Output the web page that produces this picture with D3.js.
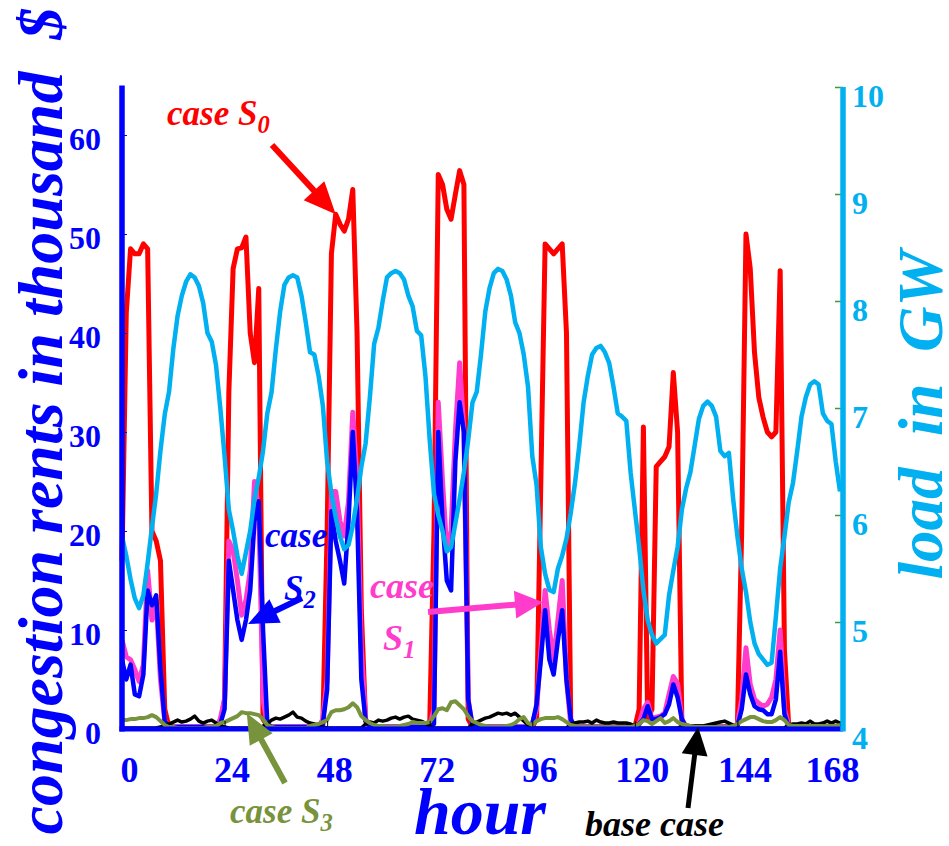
<!DOCTYPE html>
<html>
<head>
<meta charset="utf-8">
<script src="https://cdn.jsdelivr.net/npm/d3@7"></script>
<style>
  body { margin: 0; background: #fff; }
  svg text { font-family: "Liberation Serif", "Times New Roman", serif; font-weight: bold; }
</style>
</head>
<body>
<svg id="chart" width="949" height="846"></svg>
<script>
// tick values
const hourTicks = [0, 24, 48, 72, 96, 120, 144, 168];
const rentTicks = [0, 10, 20, 30, 40, 50, 60];
const loadTicks = [4, 5, 6, 7, 8, 9, 10];

// hourly values, hour 0..168
const loadGW = [
  5.80, 5.62, 5.40, 5.22, 5.13, 5.25, 5.55, 5.88, 6.20, 6.60, 6.94, 7.15,
  7.55, 7.86, 8.05, 8.18, 8.25, 8.22, 8.14, 7.98, 7.70, 7.62, 7.40, 7.00,
  6.55, 6.05, 5.85, 5.62, 5.45, 5.65, 5.85, 6.15, 6.35, 6.60, 6.95, 7.15,
  7.55, 7.90, 8.15, 8.22, 8.24, 8.22, 8.05, 7.80, 7.52, 7.50, 7.30, 7.02,
  6.50, 6.20, 5.98, 5.80, 5.68, 5.72, 5.90, 6.15, 6.45, 6.67, 7.10, 7.60,
  7.75, 8.00, 8.22, 8.26, 8.28, 8.26, 8.20, 8.05, 7.95, 7.72, 7.68, 7.30,
  6.70, 6.20, 6.00, 5.85, 5.66, 5.70, 5.92, 6.15, 6.40, 6.70, 7.05, 7.15,
  7.50, 7.90, 8.12, 8.26, 8.30, 8.28, 8.20, 8.05, 7.80, 7.70, 7.50, 7.20,
  6.55, 6.28, 5.70, 5.45, 5.30, 5.28, 5.50, 5.62, 5.78, 6.02, 6.30, 6.65,
  7.05, 7.30, 7.50, 7.56, 7.58, 7.52, 7.42, 7.20, 6.95, 6.92, 6.88, 6.40,
  6.05, 5.70, 5.30, 5.02, 4.88, 4.80, 4.84, 4.88, 5.25, 5.48, 5.70, 6.05,
  6.25, 6.40, 6.65, 6.90, 7.02, 7.06, 7.02, 6.92, 6.60, 6.55, 6.58, 6.15,
  5.80, 5.50, 5.28, 5.00, 4.80, 4.70, 4.65, 4.60, 4.62, 5.05, 5.50, 5.80,
  6.12, 6.30, 6.60, 6.92, 7.10, 7.22, 7.25, 7.22, 6.95, 6.88, 6.85, 6.50, 6.22
];

const caseS0 = [
  17, 42, 48.5, 48, 48, 49, 48.5, 20, 19, 17, 2, 0.2,
  0.2, 0.2, 0.2, 0.2, 0.2, 0.2, 0.2, 0.2, 0.2, 0.2, 0.2, 0.5,
  3, 34, 46.5, 48.5, 48.6, 49.7, 40, 37, 44.5, 1, 0.3, 0.2,
  0.2, 0.2, 0.2, 0.2, 0.2, 0.2, 0.2, 0.2, 0.2, 0.2, 0.2, 0.5,
  20, 48, 52, 51, 50.3, 51.5, 54.5, 40, 12, 0.8, 0.2, 0.2,
  0.2, 0.2, 0.2, 0.2, 0.2, 0.2, 0.2, 0.2, 0.2, 0.2, 0.2, 0.2,
  0.5, 20, 56, 55, 52.5, 51.5, 54, 56.4, 55, 1, 0.2, 0.2,
  0.2, 0.2, 0.2, 0.2, 0.2, 0.2, 0.2, 0.2, 0.2, 0.2, 0.2, 0.2,
  0.2, 1, 25, 49, 48.5, 48, 48.5, 49, 40, 0.5, 0.2, 0.2,
  0.2, 0.2, 0.2, 0.2, 0.2, 0.2, 0.2, 0.2, 0.2, 0.2, 0.2, 0.2,
  0.2, 2, 30.5, 1, 2, 26.5, 27, 27.5, 28.5, 36, 30, 0.5,
  0.2, 0.2, 0.2, 0.2, 0.2, 0.2, 0.2, 0.2, 0.2, 0.2, 0.2, 0.2,
  0.5, 20, 50, 46.5, 38, 33.5, 31.5, 30, 29.5, 30, 46.3, 8,
  0.3, 0.2, 0.2, 0.2, 0.2, 0.2, 0.2, 0.2, 0.2, 0.2, 0.2, 0.2, 0.2
];

const caseS1 = [
  9, 7.3, 7, 6, 4.8, 6.5, 16, 11, 13, 5, 0.8, 0.2,
  0.2, 0.2, 0.2, 0.2, 0.2, 0.2, 0.2, 0.2, 0.2, 0.2, 0.2, 1,
  3, 19, 18, 15, 11.5, 13, 16, 25, 22, 3, 0.5, 0.2,
  0.2, 0.2, 0.2, 0.2, 0.2, 0.2, 0.2, 0.2, 0.2, 0.2, 0.2, 1,
  5, 24, 24, 21, 19.5, 23, 32, 25, 8, 1, 0.3, 0.2,
  0.2, 0.2, 0.2, 0.2, 0.2, 0.2, 0.2, 0.2, 0.2, 0.2, 0.2, 0.2,
  0.3, 2, 33, 25, 18, 20, 30, 37, 30, 3, 0.3, 0.2,
  0.2, 0.2, 0.2, 0.2, 0.2, 0.2, 0.2, 0.2, 0.2, 0.2, 0.2, 0.2,
  0.5, 2, 8, 14, 10, 7, 11, 15, 5, 0.5, 0.2, 0.2,
  0.2, 0.2, 0.2, 0.2, 0.2, 0.2, 0.2, 0.2, 0.2, 0.2, 0.2, 0.2,
  0.2, 0.5, 2, 2.7, 1, 1.2, 1.3, 1.6, 3.5, 5.3, 4.6, 1,
  0.2, 0.2, 0.2, 0.2, 0.2, 0.2, 0.2, 0.2, 0.2, 0.2, 0.2, 0.2,
  0.5, 3, 8.2, 4.5, 3, 2.6, 2.3, 2.5, 3.2, 5, 10, 2,
  0.3, 0.2, 0.2, 0.2, 0.2, 0.2, 0.2, 0.2, 0.2, 0.2, 0.2, 0.2, 0.2
];

const caseS2 = [
  7, 5, 6.5, 3.5, 3.3, 5.5, 14, 12.5, 13.5, 6, 0.8, 0.2,
  0.2, 0.2, 0.2, 0.2, 0.2, 0.2, 0.2, 0.2, 0.2, 0.2, 0.2, 0.5,
  2, 17, 14, 11, 9, 11, 14, 21, 23, 10, 0.5, 0.2,
  0.2, 0.2, 0.2, 0.2, 0.2, 0.2, 0.2, 0.2, 0.2, 0.2, 0.2, 0.5,
  4, 22, 19, 17, 14.7, 21, 30, 22, 5, 0.8, 0.3, 0.2,
  0.2, 0.2, 0.2, 0.2, 0.2, 0.2, 0.2, 0.2, 0.2, 0.2, 0.2, 0.2,
  0.3, 0.5, 30, 21, 15, 14, 27, 33, 30, 3, 0.3, 0.2,
  0.2, 0.2, 0.2, 0.2, 0.2, 0.2, 0.2, 0.2, 0.2, 0.2, 0.2, 0.2,
  0.5, 2.5, 7, 12, 7, 5.5, 9, 12, 5, 1, 0.2, 0.2,
  0.2, 0.2, 0.2, 0.2, 0.2, 0.2, 0.2, 0.2, 0.2, 0.2, 0.2, 0.2,
  0.2, 0.5, 1, 2.3, 1, 1, 1.2, 1.5, 2.5, 4.5, 3.2, 1,
  0.2, 0.2, 0.2, 0.2, 0.2, 0.2, 0.2, 0.2, 0.2, 0.2, 0.2, 0.2,
  0.3, 2, 5.5, 3.5, 2.3, 2, 1.9, 1.5, 1.5, 3, 7.8, 1.5,
  0.2, 0.2, 0.2, 0.2, 0.2, 0.2, 0.2, 0.2, 0.2, 0.2, 0.2, 0.2, 0.2
];

const caseS3 = [
  0.9, 0.9, 1.0, 1.0, 1.1, 1.1, 1.2, 1.4, 1.2, 0.8, 0.4, 0.2,
  0.2, 0.1, 0.1, 0.1, 0.1, 0.1, 0.1, 0.1, 0.2, 0.2, 0.3, 0.6,
  0.7, 0.9, 1.1, 1.3, 1.7, 1.6, 1.6, 1.5, 1.4, 1.0, 0.4, 0.2,
  0.1, 0.1, 0.1, 0.1, 0.1, 0.1, 0.1, 0.1, 0.3, 0.4, 0.5, 0.7,
  0.9, 1.7, 1.9, 1.9, 2.0, 2.2, 2.6, 2.2, 1.3, 0.9, 0.6, 0.4,
  0.3, 0.3, 0.2, 0.2, 0.2, 0.3, 0.4, 0.5, 0.7, 0.6, 0.6, 0.6,
  0.7, 1.3, 2.0, 2.1, 1.9, 2.7, 2.8, 2.4, 2.0, 1.3, 0.8, 0.6,
  0.4, 0.3, 0.2, 0.2, 0.2, 0.2, 0.3, 0.4, 0.6, 1.0, 1.2, 0.6,
  0.4, 0.8, 1.0, 1.1, 1.1, 1.1, 1.2, 1.0, 0.7, 0.4, 0.3, 0.2,
  0.2, 0.2, 0.2, 0.2, 0.2, 0.2, 0.2, 0.2, 0.2, 0.2, 0.2, 0.2,
  0.3, 0.5, 0.9, 0.8, 0.5, 0.8, 1.1, 0.6, 0.8, 1.1, 0.7, 0.5,
  0.4, 0.3, 0.2, 0.2, 0.2, 0.2, 0.2, 0.2, 0.2, 0.2, 0.2, 0.3,
  0.5, 0.8, 1.0, 1.2, 1.2, 1.0, 0.8, 0.7, 0.7, 0.9, 1.2, 0.9,
  0.4, 0.3, 0.3, 0.3, 0.3, 0.3, 0.3, 0.3, 0.3, 0.3, 0.3, 0.3, 0.4
];

const baseCase = [
  0.1, 0.1, 0.1, 0.1, 0.1, 0.1, 0.1, 0.1, 0.1, 0.2, 0.4, 0.5,
  0.7, 0.9, 0.7, 0.8, 1.0, 1.3, 0.8, 0.6, 0.8, 0.9, 0.6, 0.4,
  0.2, 0.1, 0.1, 0.1, 0.1, 0.1, 0.1, 0.1, 0.1, 0.3, 0.5, 0.9,
  1.1, 1.0, 1.2, 1.4, 1.7, 1.2, 1.1, 0.8, 0.6, 0.5, 0.4, 0.2,
  0.1, 0.1, 0.1, 0.1, 0.1, 0.1, 0.1, 0.1, 0.1, 0.5, 0.7, 0.6,
  0.9, 0.8, 0.9, 1.1, 1.2, 1.0, 1.2, 1.3, 1.0, 0.9, 0.8, 0.6,
  0.3, 0.1, 0.1, 0.1, 0.1, 0.1, 0.1, 0.1, 0.1, 0.1, 0.5, 0.7,
  0.9, 1.1, 1.2, 1.4, 1.6, 1.5, 1.6, 1.4, 1.6, 1.2, 0.8, 0.4,
  0.1, 0.1, 0.1, 0.1, 0.1, 0.1, 0.1, 0.1, 0.1, 0.5, 0.6, 0.7,
  0.7, 0.8, 0.6, 0.9, 0.7, 0.6, 0.6, 0.7, 0.6, 0.6, 0.6, 0.5,
  0.3, 0.1, 0.1, 0.1, 0.1, 0.1, 0.1, 0.1, 0.1, 0.1, 0.1, 0.3,
  0.4, 0.3, 0.3, 0.3, 0.3, 0.4, 0.5, 0.6, 0.7, 0.8, 0.6, 0.4,
  0.1, 0.1, 0.1, 0.1, 0.1, 0.1, 0.1, 0.1, 0.1, 0.1, 0.1, 0.1,
  0.4, 0.5, 0.5, 0.6, 0.5, 0.8, 0.5, 0.5, 0.6, 0.8, 0.6, 0.8, 0.6
];

const BLUE = '#0000FF', SKY = '#00B0F0', RED = '#FF0000', PINK = '#FF3CCB', OLIVE = '#77933C';
const SERIF = '"Liberation Serif", "Times New Roman", serif';

const svg = d3.select('#chart');

const x = d3.scaleLinear().domain([0, 168]).range([122, 840]);
const yRent = d3.scaleLinear().domain([0, 65]).range([729, 85.5]);
const yLoad = d3.scaleLinear().domain([4, 10]).range([729, 87]);

const rentLine = d3.line().x((d, i) => x(i)).y(d => yRent(d));
const loadLine = d3.line().x((d, i) => x(i)).y(d => yLoad(d));

// series, drawn bottom to top
const series = [
  {values: caseS0, color: RED, width: 5, line: rentLine},
  {values: caseS1, color: PINK, width: 5, line: rentLine},
  {values: caseS2, color: BLUE, width: 4.5, line: rentLine},
  {values: baseCase, color: '#000', width: 3.5, line: rentLine},
  {values: caseS3, color: OLIVE, width: 4, line: rentLine},
  {values: loadGW, color: SKY, width: 4.5, line: loadLine}
];

svg.selectAll('path.series')
    .data(series)
    .join('path')
    .attr('class', 'series')
    .attr('fill', 'none')
    .attr('stroke', d => d.color)
    .attr('stroke-width', d => d.width)
    .attr('stroke-linejoin', 'round')
    .attr('d', d => d.line(d.values));

// x axis
svg.append('g')
    .attr('transform', `translate(0,${yRent(0)})`)
    .call(d3.axisBottom(x).tickValues(hourTicks).tickSize(-8).tickSizeOuter(0))
    .call(g => g.select('.domain').remove())
    .call(g => g.selectAll('.tick line').attr('stroke', '#000').attr('stroke-width', 1))
    .call(g => g.selectAll('.tick text')
        .attr('y', 53).attr('dy', 0)
        .attr('dx', (d, i, n) => i === n.length - 1 ? -8 : 7)
        .attr('fill', BLUE).style('font-family', SERIF).style('font-size', '36px'));

// left axis
svg.append('g')
    .attr('transform', `translate(${x(0)},0)`)
    .call(d3.axisLeft(yRent).tickValues(rentTicks).tickSize(-5).tickSizeOuter(0).tickPadding(21))
    .call(g => g.select('.domain').remove())
    .call(g => g.selectAll('.tick line').attr('stroke', BLUE).attr('stroke-width', 1))
    .call(g => g.selectAll('.tick text')
        .attr('dy', '0.45em').attr('fill', BLUE)
        .style('font-family', SERIF).style('font-size', '32px'));

// right axis
svg.append('g')
    .attr('transform', 'translate(843,0)')
    .call(d3.axisRight(yLoad).tickValues(loadTicks).tickFormat(d3.format('d'))
        .tickSize(-8).tickSizeOuter(0).tickPadding(9))
    .call(g => g.select('.domain').remove())
    .call(g => g.selectAll('.tick line').attr('stroke', '#3f9a3a').attr('stroke-width', 1.5))
    .call(g => g.selectAll('.tick text')
        .attr('dy', '0.62em').attr('fill', SKY)
        .style('font-family', SERIF).style('font-size', '32px'));

// axis lines
svg.append('line')
    .attr('x1', x(0) - 2.5).attr('x2', 843).attr('y1', yRent(0)).attr('y2', yRent(0))
    .attr('stroke', BLUE).attr('stroke-width', 5);
svg.append('line')
    .attr('x1', x(0)).attr('x2', x(0)).attr('y1', yRent(65)).attr('y2', yRent(0) + 2.5)
    .attr('stroke', BLUE).attr('stroke-width', 5.5);
svg.append('line')
    .attr('x1', 843).attr('x2', 843).attr('y1', yLoad(10)).attr('y2', yLoad(4) + 2.5)
    .attr('stroke', SKY).attr('stroke-width', 5.5);

// axis titles
svg.append('text')
    .attr('transform', 'translate(62,421) rotate(-90)')
    .attr('text-anchor', 'middle')
    .style('font-size', '64px').style('font-style', 'italic').style('white-space', 'pre')
    .attr('fill', BLUE)
    .text('congestion rents in thousand  $');

svg.append('text')
    .attr('transform', 'translate(942,415) rotate(-90)')
    .attr('text-anchor', 'middle')
    .style('font-size', '63px').style('font-style', 'italic').style('white-space', 'pre')
    .attr('fill', SKY)
    .text('load  in  GW');

svg.append('text')
    .attr('x', 480).attr('y', 834)
    .attr('text-anchor', 'middle')
    .style('font-size', '66px').style('font-style', 'italic')
    .attr('fill', BLUE)
    .text('hour');

// annotations
function arrow(x1, y1, x2, y2, color, w, len, half) {
  const dx = x2 - x1, dy = y2 - y1, L = Math.hypot(dx, dy);
  const ux = dx / L, uy = dy / L;
  const bx = x2 - ux * len, by = y2 - uy * len;
  svg.append('line')
      .attr('x1', x1).attr('y1', y1).attr('x2', bx + ux * 3).attr('y2', by + uy * 3)
      .attr('stroke', color).attr('stroke-width', w);
  svg.append('path')
      .attr('d', `M${x2},${y2}L${bx - uy * half},${by + ux * half}L${bx + uy * half},${by - ux * half}Z`)
      .attr('fill', color);
}

function caseLabel(px, py, color, main, sub, size) {
  const t = svg.append('text')
      .attr('x', px).attr('y', py)
      .attr('fill', color)
      .style('font-size', size + 'px').style('font-style', 'italic').style('white-space', 'pre');
  t.append('tspan').text(main);
  if (sub) t.append('tspan').attr('dy', 8).style('font-size', (size * 0.7) + 'px').text(sub);
  return t;
}

caseLabel(167, 125, RED, 'case S', '0', 35);
arrow(272, 145, x(50), yRent(52), RED, 6, 32, 14);

caseLabel(265, 547, BLUE, 'case', null, 35);
caseLabel(284, 600, BLUE, 'S', '2', 35);
arrow(302, 598, x(29.5), yRent(10.6), BLUE, 6, 30, 13);

caseLabel(370, 598, PINK, 'case', null, 36);
caseLabel(383, 650, PINK, 'S', '1', 36);
arrow(428, 612, x(98.5), yRent(12.8), PINK, 6, 28, 14);

caseLabel(230, 823, OLIVE, 'case S', '3', 35);
arrow(285, 783, x(29.2), yRent(1.6), OLIVE, 6, 30, 13);

caseLabel(585, 836, '#000', 'base case', null, 36);
arrow(688, 808, x(134.8), yRent(0.2), '#000', 5, 28, 13);
</script>
</body>
</html>
